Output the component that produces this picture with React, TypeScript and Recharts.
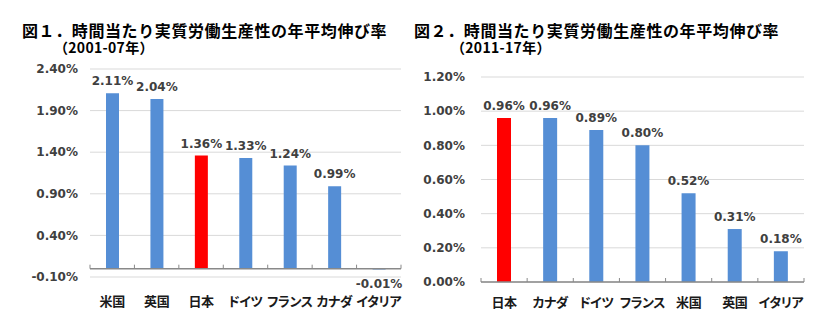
import React from 'react';
import { BarChart, Bar, Cell, XAxis, YAxis, CartesianGrid, ReferenceLine, LabelList } from 'recharts';

const BLUE = '#558ed5';
const RED = '#ff0000';
const GRID = '#d9d9d9';
const AXIS = '#898989';
const NUM_FONT = '"DejaVu Sans", Verdana, sans-serif';
const JP_FONT = '"Noto Sans CJK JP", "Noto Sans", sans-serif';

// 図1 (2001-07年)
const countries1 = ['米国', '英国', '日本', 'ドイツ', 'フランス', 'カナダ', 'イタリア'];
const values1 = [2.11, 2.04, 1.36, 1.33, 1.24, 0.99, -0.01];
const ticks1 = [-0.1, 0.4, 0.9, 1.4, 1.9, 2.4];

// 図2 (2011-17年)
const countries2 = ['日本', 'カナダ', 'ドイツ', 'フランス', '米国', '英国', 'イタリア'];
const values2 = [0.96, 0.96, 0.89, 0.8, 0.52, 0.31, 0.18];
const ticks2 = [0, 0.2, 0.4, 0.6, 0.8, 1.0, 1.2];

const HIGHLIGHT = '日本';

const pct = (v: number) => `${v.toFixed(2)}%`;

const numStyle = { fontSize: 12, fill: '#404040', fontFamily: NUM_FONT, fontWeight: 'bold' as const };

function makeCategoryTick(dy: number) {
  return (props: any) => {
    const { x, y, payload } = props;
    return (
      <text
        x={x}
        y={y + dy}
        textAnchor="middle"
        fill="#1a1a1a"
        fontSize={13}
        fontWeight="bold"
        fontFamily={JP_FONT}
        letterSpacing={-0.4}
        style={{ fontFeatureSettings: '"palt"' }}
      >
        {payload.value}
      </text>
    );
  };
}

function renderValueLabel(props: any) {
  const vb = props.viewBox ?? props;
  const x = vb.x ?? props.x;
  const y = vb.y ?? props.y;
  const width = vb.width ?? props.width;
  const height = vb.height ?? props.height;
  const value = Number(props.value);
  const top = Math.min(y, y + height);
  const bottom = Math.max(y, y + height);
  const ty = value < 0 ? bottom + 18 : top - 8;
  return (
    <text x={x + width / 2} y={ty} textAnchor="middle" {...numStyle}>
      {pct(value)}
    </text>
  );
}

function makeAxisShape(n: number) {
  return (props: any) => {
    const { x1, y1, x2, y2 } = props;
    const step = (x2 - x1) / n;
    const marks = Array.from({ length: n + 1 }, (_, k) => x1 + k * step);
    return (
      <g>
        <line x1={x1} y1={y1} x2={x2} y2={y2} stroke={AXIS} strokeWidth={1.5} />
        {marks.map((mx, k) => (
          <line key={k} x1={mx} x2={mx} y1={y1} y2={y1 - 4} stroke={AXIS} strokeWidth={1} />
        ))}
      </g>
    );
  };
}

interface PanelProps {
  names: string[];
  values: number[];
  ticks: number[];
  width: number;
  margin: { top: number; right: number; bottom: number; left: number };
  yWidth: number;
  yGap: number;
  barSize: number;
  labelDy: number;
}

function Panel({ names, values, ticks, width, margin, yWidth, yGap, barSize, labelDy }: PanelProps) {
  const data = names.map((name, i) => ({ name, value: values[i] }));
  return (
    <BarChart width={width} height={321} data={data} margin={margin} barCategoryGap={0}>
      <CartesianGrid vertical={false} stroke={GRID} />
      <XAxis
        dataKey="name"
        axisLine={false}
        tickLine={false}
        tickSize={0}
        tickMargin={0}
        height={30}
        interval={0}
        tick={makeCategoryTick(labelDy)}
      />
      <YAxis
        width={yWidth}
        domain={[ticks[0], ticks[ticks.length - 1]]}
        ticks={ticks}
        axisLine={false}
        tickLine={false}
        tickSize={0}
        tickMargin={yGap}
        tickFormatter={pct}
        tick={numStyle}
      />
      <Bar dataKey="value" barSize={barSize} isAnimationActive={false}>
        {data.map((d, i) => (
          <Cell key={`cell-${i}`} fill={d.name === HIGHLIGHT ? RED : BLUE} />
        ))}
        <LabelList dataKey="value" content={renderValueLabel} />
      </Bar>
      <ReferenceLine y={0} shape={makeAxisShape(data.length)} />
    </BarChart>
  );
}

function Title({ left, indent, main, period }: { left: number; indent: number; main: string; period: string }) {
  return (
    <div
      style={{
        position: 'absolute',
        left,
        top: 22,
        fontFamily: JP_FONT,
        fontWeight: 'bold',
        color: '#000',
        whiteSpace: 'nowrap',
        fontSize: 16,
        lineHeight: '16px',
      }}
    >
      <span style={{ letterSpacing: 0.6 }}>{main}</span>
      <br />
      <span style={{ marginLeft: indent, fontSize: 14, letterSpacing: 0.3 }}>{period}</span>
    </div>
  );
}

export default function App() {
  return (
    <div style={{ position: 'absolute', left: 0, top: 0, width: 829, height: 321, background: '#fff', overflow: 'hidden' }}>
      <div style={{ position: 'absolute', left: 0, top: 0 }}>
        <Panel
          names={countries1}
          values={values1}
          ticks={ticks1}
          width={415}
          margin={{ top: 69, right: 14, bottom: 14, left: 0 }}
          yWidth={90}
          yGap={12}
          barSize={13}
          labelDy={29}
        />
      </div>
      <div style={{ position: 'absolute', left: 415, top: 0 }}>
        <Panel
          names={countries2}
          values={values2}
          ticks={ticks2}
          width={414}
          margin={{ top: 77, right: 25, bottom: 9, left: 0 }}
          yWidth={66}
          yGap={16}
          barSize={14}
          labelDy={25}
        />
      </div>
      <Title left={22} indent={32} main="図１．時間当たり実質労働生産性の年平均伸び率" period="（2001-07年）" />
      <Title left={414} indent={37} main="図２．時間当たり実質労働生産性の年平均伸び率" period="（2011-17年）" />
    </div>
  );
}
